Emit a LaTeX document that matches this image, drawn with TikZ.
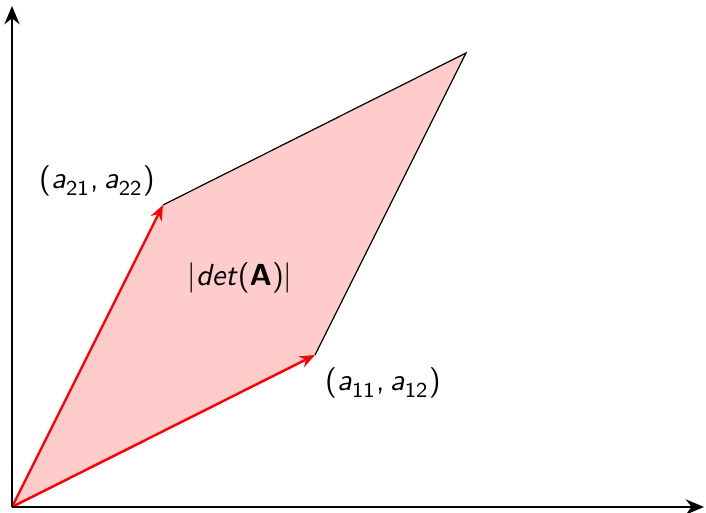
\documentclass[tikz,border=0pt]{standalone}
\usetikzlibrary{arrows.meta}
\newcommand{\sv}[2]{\textsl{#1}\textsubscript{\raisebox{-0.25ex}{#2}}}
\begin{document}
\begin{tikzpicture}[x=0.011547cm,y=-0.011547cm,
  axis/.style={line width=0.8pt,-{Stealth[length=6pt,width=5pt]}},
  vec/.style={red,line width=0.8pt,-{Stealth[length=5pt,width=4pt]}},
  edge/.style={black,line width=0.4pt},
  lbl/.style={font=\sffamily}]
\useasboundingbox (0,0) rectangle (706,513);
\coordinate (O) at (12,507);
\coordinate (X) at (704,507);
\coordinate (Y) at (12,6);
\coordinate (A) at (315,355);
\coordinate (B) at (163,205);
\coordinate (C) at (466,53);
\fill[red!20] (O) -- (A) -- (C) -- (B) -- cycle;
\draw[edge] (B) -- (C) -- (A);
\draw[vec] (O) -- (A);
\draw[vec] (O) -- (B);
\draw[axis] (O) -- (X);
\draw[axis] (O) -- (Y);
\node[lbl] (la) at (383,383) {(\sv{a}{11},\kern1.7pt\sv{a}{12})};
\node[lbl] (lb) at (97,181) {(\sv{a}{21},\kern1.7pt\sv{a}{22})};
\node[lbl] (ld) at (240,278) {$|$\textsl{det}(\textbf{A})$|$};
\end{tikzpicture}
\end{document}
